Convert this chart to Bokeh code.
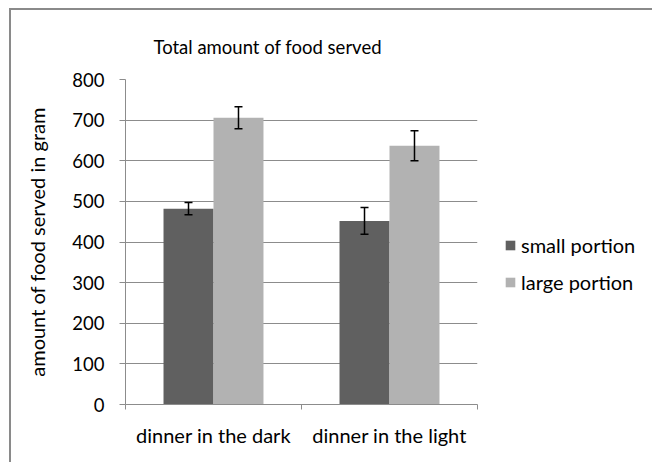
from bokeh.plotting import figure
from bokeh.models import (ColumnDataSource, Whisker, TeeHead, FixedTicker, Legend, LegendItem, Title, Range1d)
from bokeh.embed import file_html
from bokeh.resources import INLINE

categories = ["dinner in the dark", "dinner in the light"]
series_names = ["small portion", "large portion"]
small_vals = [482, 452]
large_vals = [706, 637]
small_err = [15, 33]
large_err = [27, 37]
y_ticks = [0, 100, 200, 300, 400, 500, 600, 700, 800]

FONT = "Lato"
GRID = "#8c8c8c"

p = figure(frame_width=352, frame_height=325, output_backend="svg", toolbar_location=None,
           x_range=Range1d(0, len(categories)), y_range=Range1d(0, 800),
           min_border_left=114, min_border_right=160, min_border_top=69, min_border_bottom=58)
p.outline_line_color = None
p.background_fill_color = "white"
p.border_fill_color = "white"
p.styles = {"border-top": "2px solid #8a8a8a", "border-left": "2px solid #8a8a8a",
            "margin-left": "9px", "margin-top": "8px"}

centers = [i + 0.5 for i in range(len(categories))]
bw = 0.284
x_small = [c - bw / 2 for c in centers]
x_large = [c + bw / 2 for c in centers]

src_s = ColumnDataSource(dict(x=x_small, top=small_vals,
                              lo=[v - e for v, e in zip(small_vals, small_err)],
                              hi=[v + e for v, e in zip(small_vals, small_err)]))
src_l = ColumnDataSource(dict(x=x_large, top=large_vals,
                              lo=[v - e for v, e in zip(large_vals, large_err)],
                              hi=[v + e for v, e in zip(large_vals, large_err)]))

r_s = p.vbar(x="x", top="top", width=bw, bottom=0, source=src_s, fill_color="#606060", line_color=None)
r_l = p.vbar(x="x", top="top", width=bw, bottom=0, source=src_l, fill_color="#b2b2b2", line_color=None)

for src in (src_s, src_l):
    w = Whisker(base="x", lower="lo", upper="hi", source=src, line_color="black", line_width=1.5,
                level="overlay",
                upper_head=TeeHead(size=8, line_color="black", line_width=1.5),
                lower_head=TeeHead(size=8, line_color="black", line_width=1.5))
    p.add_layout(w)

# x axis
p.xaxis.ticker = FixedTicker(ticks=centers, minor_ticks=[float(i) for i in range(len(categories) + 1)])
p.xaxis.major_label_overrides = {c: cat for c, cat in zip(centers, categories)}
p.xaxis.major_tick_out = 0
p.xaxis.major_tick_in = 0
p.xaxis.minor_tick_out = 5
p.xaxis.minor_tick_in = 0
p.xaxis.minor_tick_line_color = GRID
p.xaxis.axis_line_color = GRID
p.xaxis.major_label_text_font = FONT
p.xaxis.major_label_text_font_size = "20px"
p.xaxis.major_label_text_color = "black"
p.xaxis.major_label_standoff = 13

# y axis
p.yaxis.ticker = FixedTicker(ticks=y_ticks, minor_ticks=[])
p.yaxis.major_tick_out = 6
p.yaxis.major_tick_in = 0
p.yaxis.major_tick_line_color = GRID
p.yaxis.axis_line_color = GRID
p.yaxis.major_label_text_font = FONT
p.yaxis.major_label_text_font_size = "18.5px"
p.yaxis.major_label_text_color = "black"
p.yaxis.major_label_standoff = 15
p.yaxis.axis_label = "amount of food served in gram"
p.yaxis.axis_label_text_font = FONT
p.yaxis.axis_label_text_font_size = "20px"
p.yaxis.axis_label_text_font_style = "normal"
p.yaxis.axis_label_text_color = "black"
p.yaxis.axis_label_standoff = 20

p.xgrid.grid_line_color = None
p.ygrid.ticker = FixedTicker(ticks=y_ticks)
p.ygrid.grid_line_color = GRID
p.ygrid.grid_line_width = 1

t = Title(text="Total amount of food served", text_font=FONT, text_font_size="18.5px",
          text_font_style="normal", text_color="black", align="left", offset=28, standoff=44)
p.add_layout(t, "above")

legend = Legend(items=[LegendItem(label=series_names[0], renderers=[r_s]),
                       LegendItem(label=series_names[1], renderers=[r_l])],
                location=(27, 110), border_line_color=None, background_fill_alpha=0,
                label_text_font=FONT, label_text_font_size="20px", label_text_color="black",
                glyph_width=12, glyph_height=12, label_height=25, spacing=12, label_standoff=5,
                padding=0, margin=0)
p.add_layout(legend, "right")

open("out.html", "w").write(file_html(p, INLINE))
